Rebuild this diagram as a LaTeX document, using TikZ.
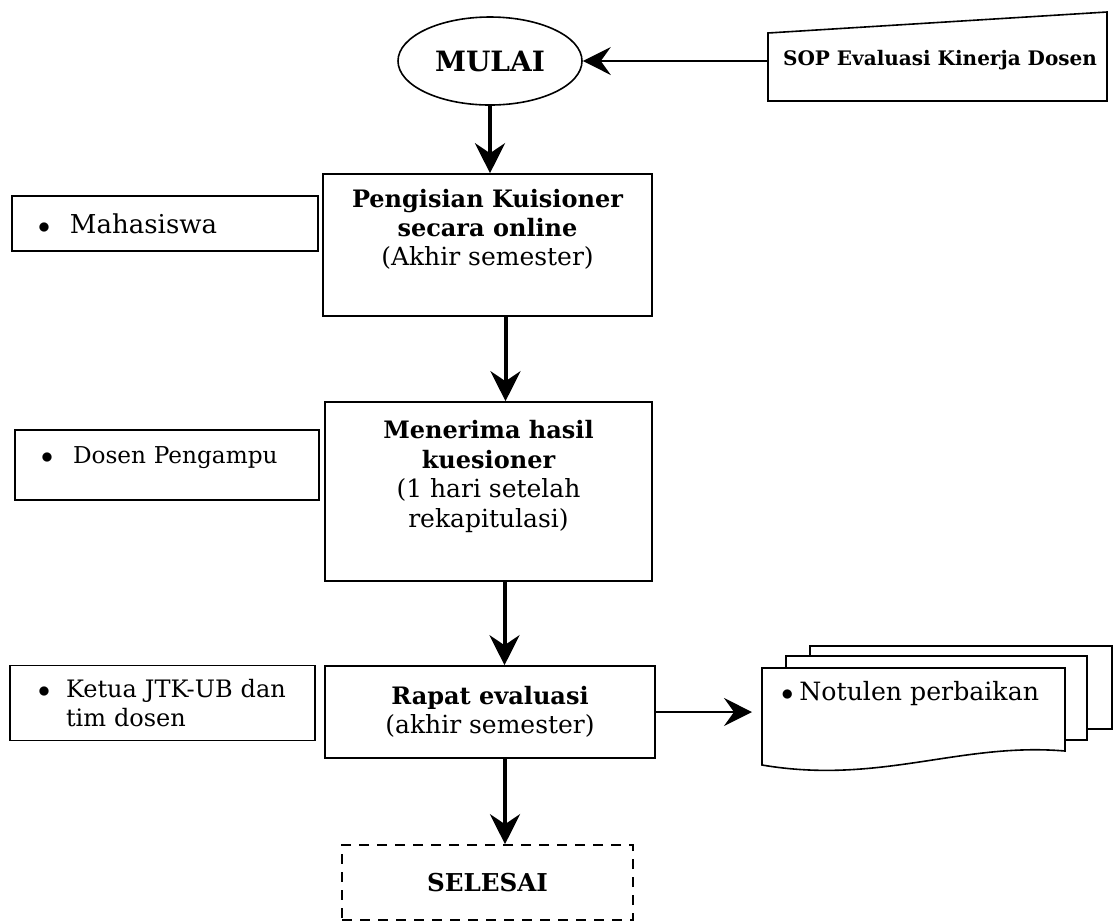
\documentclass[tikz,border=0pt]{standalone}
\usepackage{fontspec}
\setmainfont{DejaVu Serif}
\usetikzlibrary{shapes.geometric,arrows.meta}
\tikzset{
  box/.style={draw,line width=.8pt,align=center,inner sep=0pt,font=\fontsize{12.5}{14.7}\selectfont},
  side/.style={draw,line width=.8pt,align=left,inner xsep=13pt,inner ysep=0pt},
  flow/.style={line width=2pt,-{Stealth[length=15pt,width=15pt,inset=5pt]}},
  thinflow/.style={line width=.8pt,-{Stealth[length=14pt,width=14pt,inset=5pt]}},
  sheet/.style={draw,line width=.8pt,fill=white},
}
\newcommand{\bul}[1][16pt]{\makebox[#1][l]{$\bullet$}}
\newcommand{\hd}[1]{{\fontsize{12}{14.7}\selectfont\bfseries #1}}

\begin{document}
\begin{tikzpicture}[x=.5pt,y=-.5pt]
  \useasboundingbox (0,0) rectangle (1113,923);
  % main flow
  \node[box,ellipse,minimum width=92pt,minimum height=44pt,font=\fontsize{14}{16}\selectfont\bfseries] (mulai) at (490,61) {MULAI};
  \node[box,minimum width=164.5pt,minimum height=71pt] (isi) at (487.5,245)
    {\hd{Pengisian Kuisioner}\\\hd{secara online}\\(Akhir semester)\\[3pt]\mbox{}};
  \node[box,minimum width=163.5pt,minimum height=89.5pt] (terima) at (488.5,491.5)
    {\hd{Menerima hasil}\\\hd{kuesioner}\\(1 hari setelah\\rekapitulasi)\\[3pt]\mbox{}};
  \node[box,minimum width=165pt,minimum height=46pt] (rapat) at (490,712)
    {\hd{Rapat evaluasi}\\(akhir semester)};
  \node[box,dashed,dash pattern=on 5pt off 4pt,minimum width=145.5pt,minimum height=37.5pt,font=\fontsize{12.3}{15}\selectfont\bfseries] (selesai) at (487.5,882.5) {SELESAI};

  % pelaksana
  \node[side,text width=127pt,minimum height=27.5pt,font=\fontsize{13}{14}\selectfont] (mhs) at (165,223.5) {\bul Mahasiswa};
  \node[side,text width=126pt,minimum height=35pt,font=\fontsize{11.6}{13.5}\selectfont] (dosen) at (167,465) {\bul Dosen Pengampu\\[-4pt]\mbox{}};
  \node[side,inner xsep=14pt,text width=124.5pt,minimum height=37.5pt,font=\fontsize{12}{14.5}\selectfont] (ketua) at (162.5,703)
    {\bul[14pt]Ketua JTK-UB dan\\\hspace*{14pt}tim dosen};

  % SOP
  \coordinate (s1) at (768,33);
  \coordinate (s2) at (1107,12);
  \coordinate (s3) at (1107,101);
  \coordinate (s4) at (768,101);
  \coordinate (sopin) at (768,61);
  \draw[line width=.8pt] (s1) -- (s2) -- (s3) -- (s4) -- cycle;
  \node[font=\fontsize{10}{12}\selectfont\bfseries] (sop) at (940,60) {SOP Evaluasi Kinerja Dosen};

  % notulen
  \draw[sheet] (810,646) rectangle (1112,729);
  \draw[sheet] (786,656) rectangle (1087,740);
  \draw[sheet] (762,668) -- (1065,668) -- (1065,751) .. controls (960,742) and (880,785) .. (762,765) -- cycle;
  \coordinate (doc) at (762,712);
  \node[anchor=west,font=\fontsize{12.6}{14}\selectfont,inner sep=0pt] (notulen) at (781,694) {\bul[9pt]Notulen perbaikan};

  \draw[thinflow] (sopin) -- (mulai);
  \draw[flow] (mulai.south) -- (mulai.south |- isi.north);
  \draw[flow] ([xshift=9pt]isi.south) -- ([xshift=9pt]isi.south |- terima.north);
  \draw[flow] ([xshift=8pt]terima.south) -- ([xshift=8pt]terima.south |- rapat.north);
  \draw[flow] ([xshift=7.5pt]rapat.south) -- ([xshift=7.5pt]rapat.south |- selesai.north);
  \draw[thinflow,shorten >=5pt] (rapat.east) -- (rapat.east -| doc);
\end{tikzpicture}
\end{document}
